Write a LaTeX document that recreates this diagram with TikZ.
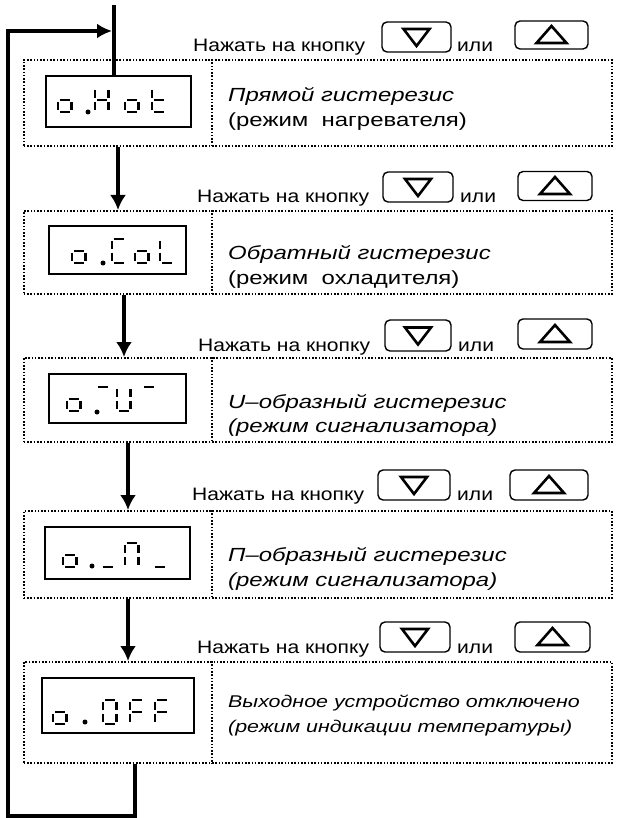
\documentclass[tikz,border=0pt]{standalone}
\usepackage{fontspec}
\usepackage{graphicx}
\setmainfont{Liberation Sans}
\usetikzlibrary{arrows.meta,calc}
\newcommand\sgA{\draw[seg] (1.9,-24) -- (11.6,-24);}
\newcommand\sgB{\draw[seg] (13.5,-22.1) -- (13.5,-13.9);}
\newcommand\sgC{\draw[seg] (13.5,-10.1) -- (13.5,-1.9);}
\newcommand\sgD{\draw[seg] (1.9,0) -- (11.6,0);}
\newcommand\sgE{\draw[seg] (0,-10.1) -- (0,-1.9);}
\newcommand\sgF{\draw[seg] (0,-22.1) -- (0,-13.9);}
\newcommand\sgG{\draw[seg] (1.9,-12) -- (11.6,-12);}
\newcommand\hs[1]{\scalebox{1.17}[1]{#1}}
\newcommand\ds[1]{\scalebox{1.26}[1]{#1}}
\begin{document}
\begin{tikzpicture}[x=1pt,y=-1pt,
  seg/.style={line width=2.7pt,line cap=butt},
  Lo/.pic={\sgC\sgD\sgE\sgG},
  LH/.pic={\sgB\sgC\sgE\sgF\sgG},
  Lt/.pic={\sgD\sgE\sgF\sgG},
  LC/.pic={\sgA\sgD\sgE\sgF},
  LL/.pic={\sgD\sgE\sgF},
  LU/.pic={\sgB\sgC\sgD\sgE\sgF},
  LPi/.pic={\sgA\sgB\sgC\sgE\sgF},
  LO/.pic={\sgA\sgB\sgC\sgD\sgE\sgF},
  LF/.pic={\sgA\sgE\sgF\sgG},
  Ltop/.pic={\sgA},
  Lbot/.pic={\sgD},
  rowbox/.style={draw,dash pattern=on 1.6pt off 1.7pt,line width=1.6pt,minimum width=588pt,anchor=north west,inner sep=0pt},
  divline/.style={dash pattern=on 1.6pt off 1.7pt,line width=1.6pt},
  disp/.style={draw,line width=1.8pt,inner sep=0pt},
  btn/.style={draw,line width=1.4pt,rounded corners=5pt,inner sep=0pt},
  tri/.style={line width=2.6pt,line join=miter},
  downtri/.pic={\draw[tri] (-13,-8) -- (13,-8) -- (0,9) -- cycle;},
  uptri/.pic={\draw[tri] (-15,8) -- (15,8) -- (0,-9) -- cycle;},
  flowline/.style={line width=4pt},
  flow/.style={line width=4pt,-{Latex[length=15pt,width=16pt]}},
  loopline/.style={line width=4.5pt,line join=miter,-{Latex[length=15pt,width=15pt]}},
  hdr/.style={font=\fontsize{18}{21}\selectfont,anchor=base west,inner sep=0pt},
  desc/.style={font=\fontsize{19}{22}\selectfont\itshape,anchor=base west,inner sep=0pt},
  descup/.style={font=\fontsize{19}{22}\selectfont,anchor=base west,inner sep=0pt},
  descsm/.style={font=\fontsize{17}{20}\selectfont\itshape,anchor=base west,inner sep=0pt},
  dp/.style={fill,circle,inner sep=0pt,minimum size=5pt}
]
\useasboundingbox (0,0) rectangle (618,818);
\fill[white] (0,0) rectangle (618,818);

% row boxes
\node[rowbox,minimum height=86pt]  (r1) at (23,59)  {};
\node[rowbox,minimum height=83pt]  (r2) at (23,210) {};
\node[rowbox,minimum height=84pt]  (r3) at (23,357) {};
\node[rowbox,minimum height=87pt]  (r4) at (23,510) {};
\node[rowbox,minimum height=101pt] (r5) at (23,661) {};
\coordinate (dv) at (212,0);
\foreach \r in {r1,r2,r3,r4,r5}
  \draw[divline] (\r.north -| dv) -- (\r.south -| dv);

% display boxes
\node[disp,minimum width=145pt,minimum height=51pt] (d1) at (118.5,101.5) {};
\node[disp,minimum width=137pt,minimum height=48pt] (d2) at (117.5,250) {};
\node[disp,minimum width=137pt,minimum height=49pt] (d3) at (117.5,398.5) {};
\node[disp,minimum width=145pt,minimum height=52pt] (d4) at (117.5,553) {};
\node[disp,minimum width=152pt,minimum height=55pt] (d5) at (118,705.5) {};

% digits
\begin{scope}[shift={(0,112)},xslant=0.15,yscale=1.1]
  \pic at (58,0) {Lo}; \pic at (95,0) {LH}; \pic at (125,0) {Lo}; \pic at (152,0) {Lt};
\end{scope}
\node[dp] (p1) at (88,112) {};
\begin{scope}[shift={(0,263)},xslant=0.15,yscale=1.2]
  \pic at (72,0) {Lo}; \pic at (112,0) {LC}; \pic at (135,0) {Lo}; \pic at (160,0) {LL};
\end{scope}
\node[dp] (p2) at (103,263) {};
\begin{scope}[shift={(0,411)},xslant=0.15,yscale=1.17]
  \pic at (67,0) {Lo}; \pic at (96,0) {Ltop}; \pic at (117,0) {LU}; \pic at (142,0) {Ltop};
\end{scope}
\node[dp] (p3) at (97,412) {};
\begin{scope}[shift={(0,567)},xslant=0.15,yscale=1.17]
  \pic at (63,0) {Lo}; \pic at (101,0) {Lbot}; \pic at (125,0) {LPi}; \pic at (153,0) {Lbot};
\end{scope}
\node[dp] (p4) at (92,566) {};
\begin{scope}[shift={(0,724)},xslant=0.15,yscale=1.46]
  \pic at (53,0) {Lo}; \pic at (103,0) {LO}; \pic at (130,0) {LF}; \pic at (155,0) {LF};
\end{scope}
\node[dp] (p5) at (85,722) {};

% descriptions
\node[desc]   (t1a) at (228,102) {\ds{Прямой гистерезис}};
\node[descup] (t1b) at (228,127) {\ds{(режим\ \ нагревателя)}};
\node[desc]   (t2a) at (228,259) {\ds{Обратный гистерезис}};
\node[descup] (t2b) at (228,284) {\ds{(режим\ \ охладителя)}};
\node[desc]   (t3a) at (228,408) {\ds{U–образный гистерезис}};
\node[desc]   (t3b) at (228,432) {\ds{(режим сигнализатора)}};
\node[desc]   (t4a) at (228,561) {\ds{П–образный гистерезис}};
\node[desc]   (t4b) at (228,586) {\ds{(режим сигнализатора)}};
\node[descsm] (t5a) at (228,707) {\ds{Выходное устройство отключено}};
\node[descsm] (t5b) at (228,732) {\ds{(режим индикации температуры)}};

% headers with buttons
\node[hdr] (h1) at (193,52) {\hs{Нажать на кнопку}};
\node[btn,minimum width=69pt,minimum height=30pt] (b1d) at (416.5,37) {};
\pic at (b1d) {downtri};
\node[hdr] (o1) at (457,52) {\hs{или}};
\node[btn,minimum width=73pt,minimum height=28pt] (b1u) at (551.5,35) {};
\pic at (b1u) {uptri};

\node[hdr] (h2) at (197,203) {\hs{Нажать на кнопку}};
\node[btn,minimum width=70pt,minimum height=30pt] (b2d) at (418,187) {};
\pic at (b2d) {downtri};
\node[hdr] (o2) at (460,203) {\hs{или}};
\node[btn,minimum width=74pt,minimum height=29pt] (b2u) at (555,186) {};
\pic at (b2u) {uptri};

\node[hdr] (h3) at (198,351) {\hs{Нажать на кнопку}};
\node[btn,minimum width=66pt,minimum height=31pt] (b3d) at (418,335.5) {};
\pic at (b3d) {downtri};
\node[hdr] (o3) at (458,351) {\hs{или}};
\node[btn,minimum width=74pt,minimum height=30pt] (b3u) at (555,334) {};
\pic at (b3u) {uptri};

\node[hdr] (h4) at (192,500) {\hs{Нажать на кнопку}};
\node[btn,minimum width=72pt,minimum height=30pt] (b4d) at (414,485) {};
\pic at (b4d) {downtri};
\node[hdr] (o4) at (457,500) {\hs{или}};
\node[btn,minimum width=78pt,minimum height=30pt] (b4u) at (549,485) {};
\pic at (b4u) {uptri};

\node[hdr] (h5) at (197,653) {\hs{Нажать на кнопку}};
\node[btn,minimum width=70pt,minimum height=30pt] (b5d) at (415,637) {};
\pic at (b5d) {downtri};
\node[hdr] (o5) at (457,653) {\hs{или}};
\node[btn,minimum width=75pt,minimum height=30pt] (b5u) at (552.5,637) {};
\pic at (b5u) {uptri};

% connectors
\coordinate (in) at (114,5);
\draw[flowline] (in) -- (d1.north -| in);
\coordinate (a1) at (118,0);
\coordinate (a2) at (124,0);
\coordinate (a3) at (128,0);
\coordinate (a4) at (128,0);
\draw[flow] (r1.south -| a1) -- (r2.north -| a1);
\draw[flow] (r2.south -| a2) -- (r3.north -| a2);
\draw[flow] (r3.south -| a3) -- (r4.north -| a3);
\draw[flow] (r4.south -| a4) -- (r5.north -| a4);
\coordinate (lb) at (135,816);
\coordinate (lt) at (8,31);
\coordinate (tip) at (112,31);
\draw[loopline] (r5.south -| lb) -- (lb) -| (lt) -- (tip);
\end{tikzpicture}
\end{document}
